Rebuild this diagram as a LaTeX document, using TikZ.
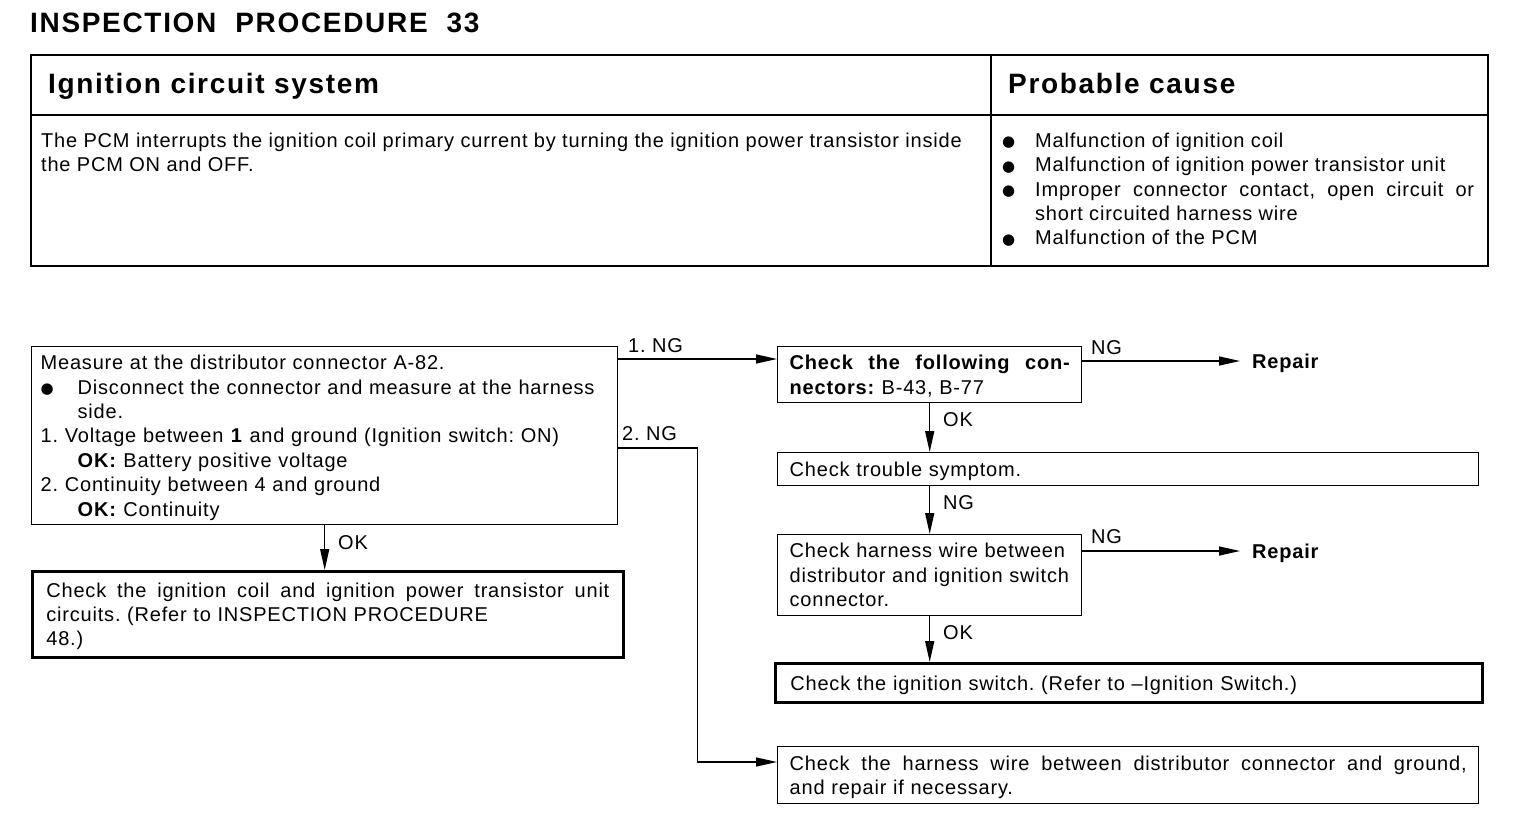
\documentclass[tikz,border=0pt]{standalone}
\usepackage{fontspec}
\setmainfont{Liberation Sans}[LetterSpace=4]
\newfontfamily\headfam{Liberation Sans}[LetterSpace=6]
\newfontfamily\symfont{DejaVu Sans}
\usetikzlibrary{arrows.meta,calc}
\frenchspacing
\newcommand\bodyfont{\fontsize{20}{24.4}\selectfont\frenchspacing}
\newcommand\headfont{\headfam\fontsize{28}{32}\selectfont\bfseries}
\newcommand\sst{\rule[-5pt]{0pt}{24.3pt}}
\newcommand\blt[1]{\makebox[#1][l]{\raisebox{0.5pt}{\symfont\fontsize{15}{15}\selectfont ●}}}
\newcommand\oneline[1]{\mbox{#1}}
\newcommand\jline[2]{\hbox to #1{\spaceskip=0.3em plus 1fil\relax #2}}
\tikzset{
  box/.style={draw, line width=1.4pt, anchor=north west, inner xsep=12pt, inner ysep=0pt, align=left, font=\bodyfont},
  thickbox/.style={box, line width=2.8pt},
  lbl/.style={anchor=base west, inner sep=0pt, font=\bodyfont},
  arr/.style={line width=1.4pt, -{Triangle[length=21pt,width=9pt]}},
  repair/.style={anchor=west, inner xsep=12pt, inner ysep=0pt, font=\bodyfont\bfseries, text height=14.3pt, text depth=0pt}
}
\begin{document}
\begin{tikzpicture}[x=1pt,y=-1pt]
\fill[white] (0,0) rectangle (1536,832);
\useasboundingbox (0,0) rectangle (1536,832);

% title
\node[anchor=base west, inner sep=0pt, font=\headfont] (title) at (30,33) {INSPECTION~~PROCEDURE~~33};

% table
\draw[line width=2.4pt] (31,55) rectangle (1488,266);
\draw[line width=1.3pt] (31,115) -- (1488,115);
\draw[line width=1.3pt] (991,55) -- (991,266);
\node[anchor=base west, inner sep=0pt, font=\headfont] (h1) at (48,94) {Ignition circuit system};
\node[anchor=base west, inner sep=0pt, font=\headfont] (h2) at (1008,94) {Probable cause};
\node[anchor=north west, inner sep=0pt, align=left, font=\bodyfont] (t1) at (41,127.7)
  {\sst The PCM interrupts the ignition coil primary current by turning the ignition power transistor inside\\
   the PCM ON and OFF.\sst};
\node[anchor=north west, inner sep=0pt, align=left, font=\bodyfont] (t2) at (1002,127.7)
  {\sst\blt{33pt}Malfunction of ignition coil\\
   \blt{33pt}Malfunction of ignition power transistor unit\\
   \blt{33pt}\jline{439pt}{Improper connector contact, open circuit or}\\
   \hspace*{33pt}short circuited harness wire\\
   \blt{33pt}Malfunction of the PCM\sst};

% flowchart boxes
\node[box, inner xsep=9pt, text width=568pt, minimum width=586pt, minimum height=178pt] (A) at (31,346)
  {\sst\oneline{Measure at the distributor connector A-82.}\\
   \oneline{\blt{37pt}Disconnect the connector and measure at the harness}\\
   \hspace*{37pt}side.\\
   \oneline{1. Voltage between \textbf{1} and ground (Ignition switch: ON)}\\
   \hspace*{37pt}\textbf{OK:} Battery positive voltage\\
   2. Continuity between 4 and ground\\
   \hspace*{37pt}\textbf{OK:} Continuity\sst};
\node[thickbox, inner xsep=14pt, text width=563pt, minimum width=591pt, minimum height=86pt] (B) at (31,570)
  {\sst\jline{563pt}{Check the ignition coil and ignition power transistor unit}\\
   \oneline{circuits. (Refer to INSPECTION PROCEDURE}\\
   48.)\sst};
\node[box, text width=280pt, minimum width=304pt, minimum height=56pt] (C) at (777,346)
  {\sst\jline{280pt}{\bfseries Check the following con-}\\
   \textbf{nectors:} B-43, B-77\sst};
\node[box, text width=677pt, minimum width=701pt, minimum height=33pt] (D) at (777,452)
  {\sst Check trouble symptom.\sst};
\node[box, text width=280pt, minimum width=304pt, minimum height=81pt] (E) at (777,534)
  {\sst\oneline{Check harness wire between}\\
   \oneline{distributor and ignition switch}\\
   connector.\sst};
\node[thickbox, inner xsep=15pt, text width=677pt, minimum width=707pt, minimum height=39pt] (F) at (774,662)
  {\sst Check the ignition switch. (Refer to --Ignition Switch.)\sst};
\node[box, text width=677pt, minimum width=701pt, minimum height=57pt] (G) at (777,746)
  {\sst\jline{677pt}{Check the harness wire between distributor connector and ground,}\\
   and repair if necessary.\sst};

\node[repair] (rep1) at (1240,361) {Repair};
\node[repair] (rep2) at (1240,551) {Repair};

% connectors
\draw[arr] ([yshift=-13pt]A.north east) -- ([yshift=-13pt]C.north west);
\draw[arr] ([yshift=-102pt]A.north east) -- ++(79,0) |- ([yshift=-16pt]G.north west);
\draw[arr] (A.south) -- (A.south |- B.north);
\draw[arr] (C.east |- rep1.west) -- (rep1.west);
\draw[arr] (C.south) -- (C.south |- D.north);
\draw[arr] (C.south |- D.south) -- (E.north);
\draw[arr] (E.east |- rep2.west) -- (rep2.west);
\draw[arr] (E.south) -- (E.south |- F.north);

% labels
\node[lbl] (l1) at (628,352) {1. NG};
\node[lbl] (l2) at (622,440) {2. NG};
\node[lbl] (l3) at (338,549) {OK};
\node[lbl] (l4) at (943,426) {OK};
\node[lbl] (l5) at (943,509) {NG};
\node[lbl] (l6) at (943,639) {OK};
\node[lbl] (l7) at (1091,354) {NG};
\node[lbl] (l8) at (1091,543) {NG};
\end{tikzpicture}
\end{document}
